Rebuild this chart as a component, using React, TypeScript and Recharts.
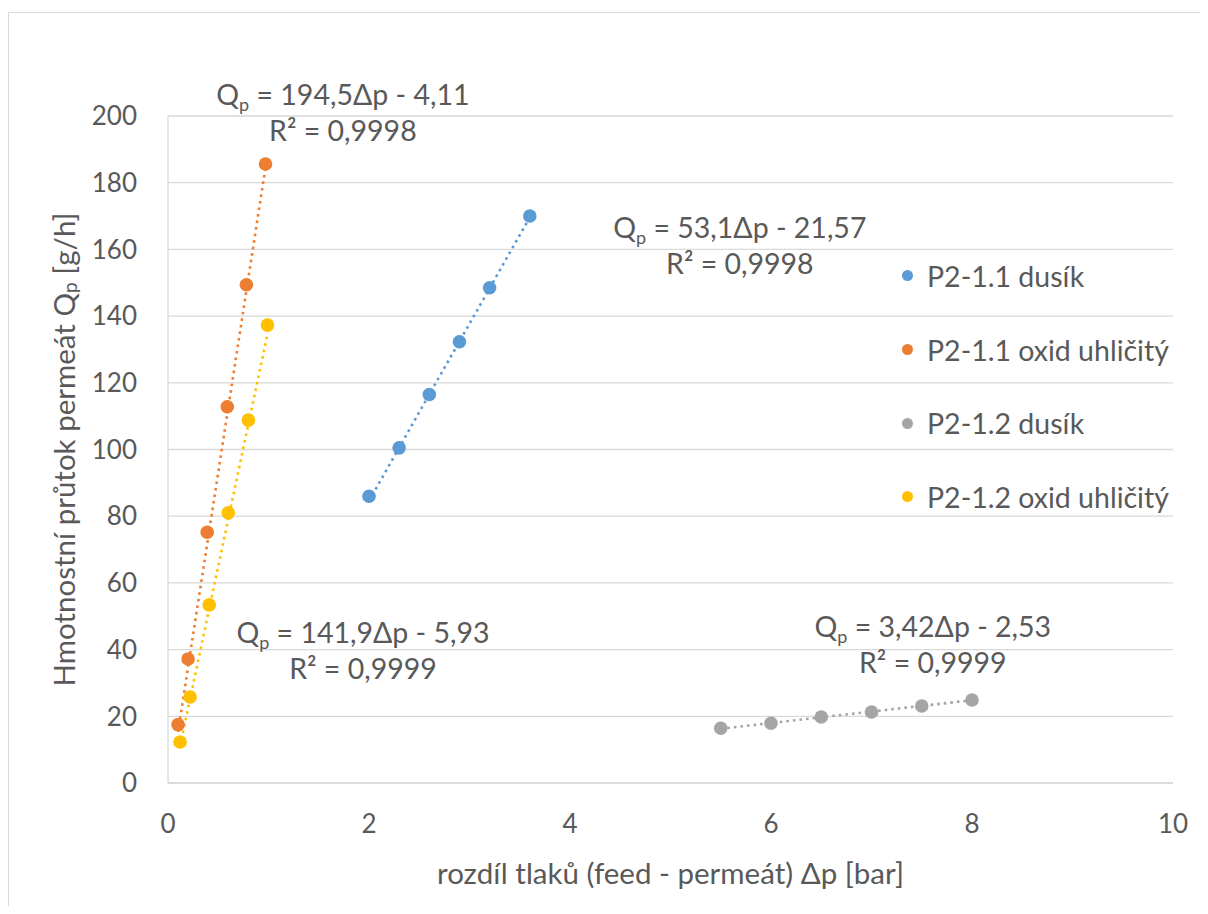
import React from 'react';
import { ScatterChart, Scatter, XAxis, YAxis, CartesianGrid, ReferenceDot } from 'recharts';

const seriesNames = ['P2-1.1 dusík', 'P2-1.1 oxid uhličitý', 'P2-1.2 dusík', 'P2-1.2 oxid uhličitý'];
const seriesColors = ['#5B9BD5', '#ED7D31', '#A5A5A5', '#FFC000'];

const n11X = [2.0, 2.3, 2.6, 2.9, 3.2, 3.6];
const n11Y = [86, 100.5, 116.5, 132.3, 148.5, 170];
const co11X = [0.1, 0.2, 0.39, 0.59, 0.78, 0.97];
const co11Y = [17.5, 37.2, 75.2, 112.8, 149.4, 185.6];
const n12X = [5.5, 6.0, 6.5, 7.0, 7.5, 8.0];
const n12Y = [16.4, 17.9, 19.8, 21.3, 23.1, 24.9];
const co12X = [0.12, 0.22, 0.41, 0.6, 0.8, 0.99];
const co12Y = [12.3, 25.8, 53.4, 81, 108.8, 137.3];

const trendSlopes = [53.1, 194.5, 3.42, 141.9];
const trendIntercepts = [-21.57, -4.11, -2.53, -5.93];
const eqTexts = ['53,1Δp - 21,57', '194,5Δp - 4,11', '3,42Δp - 2,53', '141,9Δp - 5,93'];
const r2Texts = ['0,9998', '0,9998', '0,9999', '0,9999'];

const xTicks = [0, 2, 4, 6, 8, 10];
const yTicks = [0, 20, 40, 60, 80, 100, 120, 140, 160, 180, 200];

const xTitle = 'rozdíl tlaků (feed - permeát) Δp [bar]';

const FONT = 'Lato, "Open Sans", sans-serif';
const TXT = '#595959';
const FS = 26;
const FS_EQ = 28.5;
const FS_TITLE = 29.5;

const xsAll = [n11X, co11X, n12X, co12X];
const ysAll = [n11Y, co11Y, n12Y, co12Y];

const seriesData = xsAll.map((xs, i) => xs.map((x, j) => ({ x, y: ysAll[i][j] })));
const trendData = xsAll.map((xs, i) => {
  const lo = Math.min(...xs);
  const hi = Math.max(...xs);
  return [
    { x: lo, y: trendSlopes[i] * lo + trendIntercepts[i] },
    { x: hi, y: trendSlopes[i] * hi + trendIntercepts[i] },
  ];
});

// label anchors (data coordinates) for equation blocks
const labelAnchors = [
  { x: 5.69, y: 161.0 },
  { x: 1.74, y: 200.9 },
  { x: 7.61, y: 41.4 },
  { x: 1.94, y: 39.6 },
];

const EqLabel = ({ cx, cy, eq, r2 }: any) => {
  if (cx == null || cy == null) return null;
  return (
    <g>
      <text x={cx} y={cy - 18 + 10} textAnchor="middle" fill={TXT} fontSize={FS_EQ} fontFamily={FONT}>
        <tspan>Q</tspan>
        <tspan fontSize={18} dy={6}>p</tspan>
        <tspan dy={-6}>{' = ' + eq}</tspan>
      </text>
      <text x={cx} y={cy + 18 + 10} textAnchor="middle" fill={TXT} fontSize={FS_EQ} fontFamily={FONT}>
        {'R² = ' + r2}
      </text>
    </g>
  );
};

const YTitle = (props: any) => {
  const vb = props.viewBox || { x: 0, y: 108, width: 160, height: 667 };
  const x = vb.x + 55;
  const y = vb.y + vb.height / 2;
  return (
    <text
      x={x}
      y={y}
      transform={`rotate(-90, ${x}, ${y})`}
      textAnchor="middle"
      dominantBaseline="central"
      fill={TXT}
      fontSize={FS_TITLE}
      fontFamily={FONT}
    >
      <tspan>Hmotnostní průtok permeát Q</tspan>
      <tspan fontSize={19} dy={6}>p</tspan>
      <tspan dy={-6}> [g/h]</tspan>
    </text>
  );
};

const XTitle = (props: any) => {
  const vb = props.viewBox || { x: 160, y: 775, width: 1005, height: 123 };
  const x = vb.x + vb.width / 2;
  const y = vb.y + 89;
  return (
    <text x={x} y={y} textAnchor="middle" dominantBaseline="central" fill={TXT} fontSize={FS_TITLE} fontFamily={FONT}>
      {xTitle}
    </text>
  );
};

export default function App() {
  return (
    <div style={{ position: 'relative', width: 1200, height: 898, fontFamily: FONT, overflow: 'hidden' }}>
      <div
        style={{
          position: 'absolute',
          left: 0,
          top: 4,
          width: 1400,
          height: 1000,
          borderLeft: '1px solid #d9d9d9',
          borderTop: '1px solid #d9d9d9',
          boxSizing: 'border-box',
        }}
      />
      <div style={{ position: 'absolute', left: 0, top: 0 }}>
        <ScatterChart width={1192} height={898} margin={{ top: 108, right: 27, left: 0, bottom: 0 }}>
          <CartesianGrid horizontal vertical={false} stroke="#d9d9d9" strokeWidth={1.3} />
          <XAxis
            type="number"
            dataKey="x"
            domain={[0, 10]}
            ticks={xTicks}
            allowDataOverflow
            height={123}
            tickLine={false}
            tickSize={6}
            tickMargin={26}
            axisLine={{ stroke: '#d9d9d9', strokeWidth: 1.3 }}
            tick={{ fill: TXT, fontSize: FS, fontFamily: FONT }}
            label={<XTitle />}
          />
          <YAxis
            type="number"
            dataKey="y"
            domain={[0, 200]}
            ticks={yTicks}
            allowDataOverflow
            width={160}
            tickLine={false}
            tickSize={6}
            tickMargin={25}
            axisLine={{ stroke: '#d9d9d9', strokeWidth: 1.3 }}
            tick={{ fill: TXT, fontSize: FS, fontFamily: FONT }}
            label={<YTitle />}
          />
          {trendData.map((d, i) => (
            <Scatter
              key={'t' + i}
              data={d}
              isAnimationActive={false}
              line={{ stroke: seriesColors[i], strokeWidth: 2.6, strokeDasharray: '2.6 4' }}
              shape={() => <g />}
              legendType="none"
            />
          ))}
          {seriesData.map((d, i) => (
            <Scatter
              key={'s' + i}
              name={seriesNames[i]}
              data={d}
              isAnimationActive={false}
              fill={seriesColors[i]}
              shape={(p: any) => <circle cx={p.cx} cy={p.cy} r={6.8} fill={seriesColors[i]} />}
            />
          ))}
          {labelAnchors.map((a, i) => (
            <ReferenceDot
              key={'l' + i}
              x={a.x}
              y={a.y}
              r={1}
              ifOverflow="visible"
              shape={(p: any) => <EqLabel cx={p.cx} cy={p.cy} eq={eqTexts[i]} r2={r2Texts[i]} />}
            />
          ))}
        </ScatterChart>
      </div>
      <div style={{ position: 'absolute', left: 894, top: 231 }}>
        {seriesNames.map((n, i) => (
          <div key={n} style={{ height: 73.7, display: 'flex', alignItems: 'center', whiteSpace: 'nowrap' }}>
            <span
              style={{
                display: 'inline-block',
                width: 11,
                height: 11,
                borderRadius: '50%',
                background: seriesColors[i],
                marginRight: 14,
              }}
            />
            <span style={{ color: TXT, fontSize: FS_EQ, fontFamily: FONT }}>{n}</span>
          </div>
        ))}
      </div>
    </div>
  );
}
